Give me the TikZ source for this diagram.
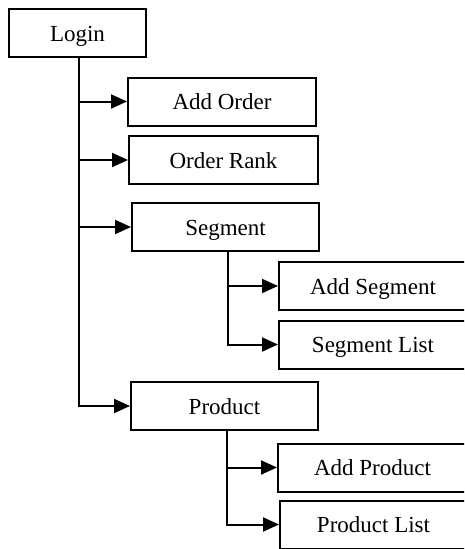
\documentclass[tikz,border=0pt]{standalone}
\usepackage{fontspec}
\setmainfont{Liberation Serif}
\usetikzlibrary{arrows.meta}
\begin{document}
\begin{tikzpicture}[x=1pt,y=-1pt,
  box/.style={draw, line width=2pt, inner sep=0pt, minimum height=48pt,
    font=\fontsize{23}{27}\selectfont, text height=16pt, text depth=0pt},
  arr/.style={line width=2pt, -{Triangle[length=16pt,width=14pt]}}]
\useasboundingbox (0,0) rectangle (464,549);
\clip (0,0) rectangle (464,549);
\node[box, minimum width=137pt] (login) at (77.5,33) {Login};
\node[box, minimum width=188pt] (addorder) at (222,101.5) {Add Order};
\node[box, minimum width=189pt] (orderrank) at (223.5,160) {Order Rank};
\node[box, minimum width=187pt] (segment) at (225.5,227) {Segment};
\node[box, minimum width=188pt] (addsegment) at (373,286) {Add Segment};
\node[box, minimum width=188pt] (segmentlist) at (373,344.5) {Segment List};
\node[box, minimum width=187pt] (product) at (224.5,406) {Product};
\node[box, minimum width=189pt] (addproduct) at (372.5,467.5) {Add Product};
\node[box, minimum width=187pt] (productlist) at (373.5,524.5) {Product List};
% trunk
\coordinate (tr) at ([xshift=1.5pt]login.south);
\draw[arr] (tr) |- (product.west);
\draw[arr] (tr |- addorder.west) -- (addorder.west);
\draw[arr] (tr |- orderrank.west) -- (orderrank.west);
\draw[arr] (tr |- segment.west) -- (segment.west);
% segment branch
\coordinate (sb) at ([xshift=2.5pt]segment.south);
\draw[arr] (sb) |- (segmentlist.west);
\draw[arr] (sb |- addsegment.west) -- (addsegment.west);
% product branch
\coordinate (pb) at ([xshift=2.5pt]product.south);
\draw[arr] (pb) |- (productlist.west);
\draw[arr] (pb |- addproduct.west) -- (addproduct.west);
\end{tikzpicture}
\end{document}
